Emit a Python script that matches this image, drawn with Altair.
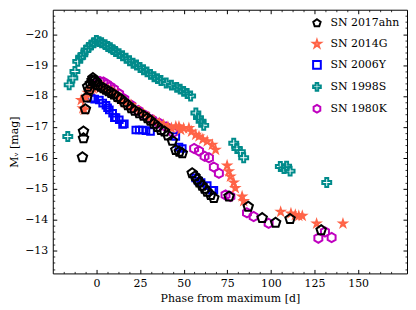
import altair as alt
import pandas as pd

# ---------------- data ----------------
names = ["SN 2017ahn", "SN 2014G", "SN 2006Y", "SN 1998S", "SN 1980K"]
colors = ["#000000", "#ff6347", "#0000ff", "#008b8b", "#bf00bf"]

ahn_phase = [-8.0, -7.4, -7.4, -6.3, -5.5, -5.0, -4.0, -3.5, -2.5, -2.0, -1.0, 0.0, 1.0, 2.5,
             4.0, 5.5, 7.0, 8.5, 10.0, 12.0, 14.0, 16.0, 18.0, 20.0, 22.0, 24.5, 27.0, 29.3,
             31.0, 33.0, 35.0, 37.0, 39.0, 41.0, 43.5, 45.5, 47.5, 49.2, 54.9, 56.5, 57.8,
             59.0, 60.6, 62.0, 63.5, 65.5, 67.3, 76.0, 87.0, 95.0, 102.7, 111.0, 128.8]
ahn_mag = [-16.02, -16.63, -16.85, -17.57, -17.95, -18.3, -18.2, -18.4, -18.5, -18.58, -18.5,
           -18.45, -18.35, -18.3, -18.25, -18.2, -18.15, -18.1, -18.05, -17.97, -17.9, -17.8,
           -17.7, -17.6, -17.52, -17.44, -17.36, -17.28, -17.2, -17.1, -17.0, -16.9, -16.85,
           -16.72, -16.55, -16.25, -16.2, -16.15, -15.5, -15.4, -15.3, -15.2, -15.1, -15.0,
           -14.9, -14.8, -14.7, -14.75, -14.42, -14.05, -13.9, -14.02, -13.66]

g14_phase = [-8.7, -7.8, -7.0, -6.0, -5.0, -4.0, -3.0, -2.0, -1.0, 0.5, 2.0, 3.6, 5.0, 7.0,
             9.3, 11.0, 13.0, 15.0, 17.0, 19.8, 22.0, 24.5, 27.0, 30.0, 33.0, 36.0, 38.5,
             41.0, 43.0, 45.5, 47.3, 48.3, 50.0, 53.0, 54.5, 56.9, 58.8, 61.0, 63.5, 66.4,
             68.3, 74.9, 75.9, 76.8, 78.7, 79.6, 83.5, 84.4, 105.6, 111.5, 114.0, 116.0,
             118.0, 126.2, 141.3]
g14_mag = [-17.87, -17.6, -17.55, -17.95, -18.1, -18.2, -18.22, -18.25, -18.3, -18.28, -18.25,
           -18.3, -18.25, -18.2, -18.14, -18.05, -17.95, -17.85, -17.77, -17.71, -17.6, -17.5,
           -17.42, -17.3, -17.2, -17.12, -17.06, -17.0, -16.96, -17.01, -17.01, -16.9, -16.95,
           -16.96, -16.85, -16.74, -16.69, -16.6, -16.53, -16.42, -16.26, -15.75, -15.56,
           -15.39, -15.2, -15.02, -14.75, -14.6, -14.25, -14.2, -14.15, -14.12, -14.12,
           -13.87, -13.87]

y06_phase = [-3.0, -1.0, 1.7, 3.6, 5.5, 6.4, 7.4, 9.3, 10.3, 11.2, 13.1, 15.0, 16.0, 22.6,
             24.5, 26.4, 28.4, 31.0, 45.5, 47.3, 49.2, 56.9, 58.5, 60.0, 63.5, 66.4, 67.3]
y06_mag = [-17.93, -17.9, -17.87, -17.77, -17.7, -17.62, -17.55, -17.44, -17.3, -17.3, -17.23,
           -17.08, -17.1, -16.9, -16.9, -16.9, -16.88, -16.85, -16.69, -16.35, -16.3, -15.35,
           -15.25, -15.2, -15.1, -14.95, -14.95]

s98_phase = [-16.4, -15.6, -13.5, -12.3, -10.7, -9.0, -7.8, -5.9, -4.5, -3.0, -1.5, 0.0, 1.5,
             3.0, 5.0, 6.5, 8.0, 9.5, 11.0, 13.0, 15.0, 17.0, 19.0, 21.0, 23.0, 25.0, 27.0,
             29.0, 31.0, 33.0, 35.0, 37.0, 40.0, 43.0, 46.0, 48.0, 50.0, 52.0, 54.0, 57.0,
             58.5, 60.0, 61.5, 78.7, 80.5, 82.5, 84.4, 105.4, 107.5, 109.0, 111.0, 132.0]
s98_mag = [-16.69, -18.36, -18.58, -18.79, -19.12, -19.25, -19.33, -19.49, -19.57, -19.65,
           -19.72, -19.8, -19.76, -19.72, -19.66, -19.6, -19.56, -19.5, -19.44, -19.37, -19.3,
           -19.22, -19.14, -19.06, -19.0, -18.92, -18.85, -18.78, -18.7, -18.62, -18.56, -18.5,
           -18.42, -18.35, -18.28, -18.22, -18.15, -18.08, -18.0, -17.45, -17.3, -17.18,
           -17.05, -16.47, -16.3, -16.2, -16.0, -15.72, -15.65, -15.73, -15.57, -15.2]

k80_phase = [0.0, 2.0, 4.0, 6.0, 8.0, 10.0, 13.0, 16.0, 20.0, 24.0, 28.0, 32.0, 36.0, 40.0,
             44.0, 56.0, 58.8, 62.0, 64.5, 67.3, 70.2, 74.0, 76.8, 86.3, 90.1, 98.7, 127.2,
             131.0, 134.8]
k80_mag = [-18.4, -18.47, -18.45, -18.38, -18.3, -18.22, -18.07, -17.9, -17.7, -17.53, -17.37,
           -17.23, -17.12, -17.0, -16.82, -16.3, -16.22, -16.05, -16.0, -15.7, -15.5, -14.8,
           -14.75, -14.22, -14.1, -13.88, -13.4, -13.6, -13.42]

x_major = [0, 25, 50, 75, 100, 125, 150]
y_major = [-20, -19, -18, -17, -16, -15, -14, -13]

# ---------------- table ----------------
series = [  # drawn in this order (last on top)
    ("SN 1980K", k80_phase, k80_mag, 85),
    ("SN 1998S", s98_phase, s98_mag, 80),
    ("SN 2006Y", y06_phase, y06_mag, 45),
    ("SN 2014G", g14_phase, g14_mag, 48),
    ("SN 2017ahn", ahn_phase, ahn_mag, 100),
]
rows = []
for name, ph, mg, sz in series:
    assert len(ph) == len(mg)
    for p, m in zip(ph, mg):
        rows.append({"sn": name, "phase": p, "mag": m, "sz": sz})
df = pd.DataFrame(rows)

pentagon = "M0,-1L0.951,-0.309L0.588,0.809L-0.588,0.809L-0.951,-0.309Z"
star = ("M0,-1L0.225,-0.309L0.951,-0.309L0.363,0.118L0.588,0.809L0,0.382"
        "L-0.588,0.809L-0.363,0.118L-0.951,-0.309L-0.225,-0.309Z")
square = "M-1,-1L1,-1L1,1L-1,1Z"
plus = ("M-0.33,-1L0.33,-1L0.33,-0.33L1,-0.33L1,0.33L0.33,0.33L0.33,1L-0.33,1"
        "L-0.33,0.33L-1,0.33L-1,-0.33L-0.33,-0.33Z")
hexagon = "M0,-1L0.866,-0.5L0.866,0.5L0,1L-0.866,0.5L-0.866,-0.5Z"
shapes = [pentagon, star, square, plus, hexagon]

W, H = 356, 265
FONT = "DejaVu Serif"

x_scale = alt.Scale(domain=[-25, 178], nice=False, zero=False)
y_scale = alt.Scale(domain=[-20.79, -12.26], reverse=True, nice=False, zero=False)

legend = alt.Legend(title=None, orient="none", legendX=260, legendY=8,
                    labelFont=FONT, labelFontSize=11, labelColor="black",
                    symbolSize=60, symbolStrokeWidth=2, rowPadding=5,
                    labelOffset=8, padding=0)

base = alt.Chart(df)

main = base.mark_point(filled=False, strokeWidth=2, opacity=1).encode(
    x=alt.X("phase:Q", scale=x_scale,
            axis=alt.Axis(values=x_major, ticks=False, domain=False, grid=False,
                          title="Phase from maximum [d]", labelPadding=4, titlePadding=4)),
    y=alt.Y("mag:Q", scale=y_scale,
            axis=alt.Axis(values=y_major, ticks=False, domain=False, grid=False,
                          title="Mᵥ [mag]", labelPadding=5, titlePadding=5)),
    color=alt.Color("sn:N", scale=alt.Scale(domain=names, range=colors), legend=legend),
    shape=alt.Shape("sn:N", scale=alt.Scale(domain=names, range=shapes), legend=legend),
    size=alt.Size("sz:Q", scale=None),
)

x_minor = [-25 + 6.25 * i for i in range(33) if (i % 4) != 0]
y_minor = [round(-20.8 + 0.2 * i, 2) for i in range(44) if (i % 5) != 4]


def tick_layer(xvals, yvals, xorient, yorient, size, width):
    return base.mark_point(opacity=0).encode(
        x=alt.X("phase:Q", scale=x_scale,
                axis=alt.Axis(orient=xorient, offset=-H, values=xvals, labels=False,
                              domain=False, grid=False, ticks=True, tickSize=size,
                              tickWidth=width, tickColor="black", title=None)),
        y=alt.Y("mag:Q", scale=y_scale,
                axis=alt.Axis(orient=yorient, offset=-W, values=yvals, labels=False,
                              domain=False, grid=False, ticks=True, tickSize=size,
                              tickWidth=width, tickColor="black", title=None)),
    )


layers = [
    main,
    tick_layer(x_major, y_major, "top", "right", 4, 1),      # bottom & left, inward
    tick_layer(x_major, y_major, "bottom", "left", 4, 1),    # top & right, inward
    tick_layer(x_minor, y_minor, "top", "right", 2, 0.8),
    tick_layer(x_minor, y_minor, "bottom", "left", 2, 0.8),
]

chart = alt.layer(*layers).resolve_axis(x="independent", y="independent").properties(
    width=W, height=H, padding={"left": 0, "top": 0, "right": 0, "bottom": 0}
).configure(font=FONT).configure_view(stroke="black", strokeWidth=1).configure_axis(
    labelFont=FONT, titleFont=FONT, labelFontSize=11, titleFontSize=11,
    labelColor="black", titleColor="black", titleFontWeight="normal"
)

chart.save("out.html", embed_options={"renderer": "svg", "actions": False})
